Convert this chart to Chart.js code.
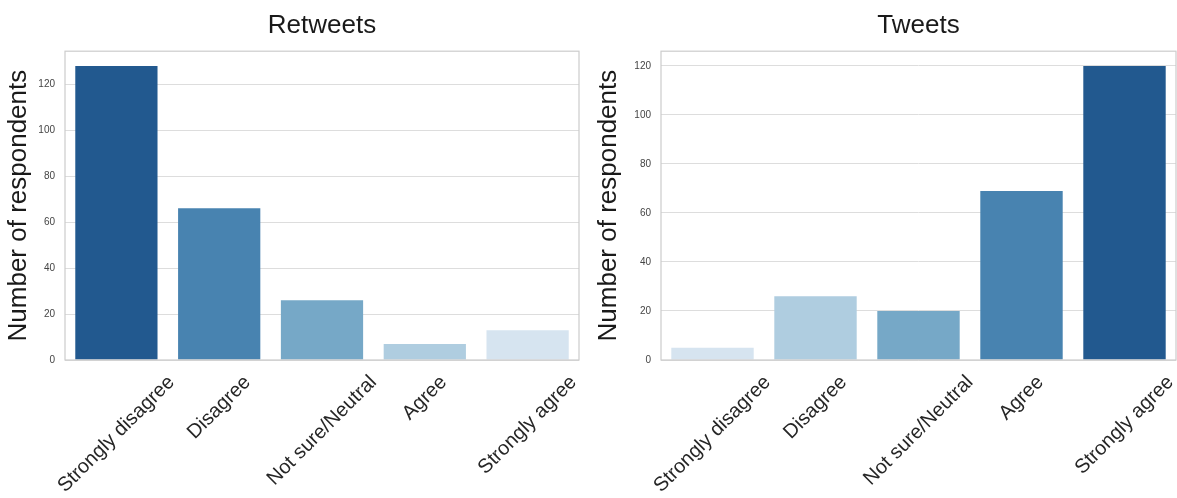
<!DOCTYPE html>
<html>
<head>
<meta charset="utf-8">
<script src="https://cdn.jsdelivr.net/npm/chart.js@4/dist/chart.umd.min.js"></script>
<style>
  html, body { margin: 0; padding: 0; background: #fff; }
  #wrap { position: relative; width: 1177px; height: 498px; }
  #left { position: absolute; left: 0; top: 0; }
  #right { position: absolute; left: 590px; top: 0; }
</style>
</head>
<body>
<div id="wrap">
  <canvas id="left" width="590" height="498"></canvas>
  <canvas id="right" width="587" height="498"></canvas>
</div>
<script>
// data
const categories = ["Strongly disagree", "Disagree", "Not sure/Neutral", "Agree", "Strongly agree"];
const retweetCounts = [128, 66, 26, 7, 13];
const tweetCounts = [5, 26, 20, 69, 120];
const yTicks = [0, 20, 40, 60, 80, 100, 120];

// Blues palette, dark -> light
const blues = ["#22598f", "#4883b0", "#76a8c7", "#afcde0", "#d6e4f0"];
const FONT = "'Liberation Sans', Arial, sans-serif";

// spines on all four sides, drawn over the bars like matplotlib does
const frame = {
  id: "frame",
  afterDatasetsDraw(chart) {
    const a = chart.chartArea;
    const ctx = chart.ctx;
    ctx.save();
    ctx.strokeStyle = "#cccccc";
    ctx.lineWidth = 1.2;
    ctx.strokeRect(a.left, a.top, a.right - a.left, a.bottom - a.top);
    ctx.restore();
  }
};

// x labels rotated 45deg and centred on the tick (matplotlib ha=center)
const slantLabels = {
  id: "slantLabels",
  afterDraw(chart) {
    const x = chart.scales.x;
    const ctx = chart.ctx;
    const fs = 20;
    ctx.save();
    ctx.font = fs + "px " + FONT;
    ctx.fillStyle = "#262626";
    ctx.textAlign = "center";
    ctx.textBaseline = "middle";
    chart.data.labels.forEach((lab, i) => {
      const w = ctx.measureText(lab).width;
      const h = fs * 1.15;
      const ext = (w + h) * Math.SQRT1_2;
      const cx = x.getPixelForTick(i);
      const cy = chart.chartArea.bottom + 11 + ext / 2;
      ctx.save();
      ctx.translate(cx, cy);
      ctx.rotate(-Math.PI / 4);
      ctx.fillText(lab, 0, 0);
      ctx.restore();
    });
    ctx.restore();
  }
};

function makeChart(id, title, counts, colors, yMax, yWidth, padRight) {
  return new Chart(document.getElementById(id), {
    type: "bar",
    data: {
      labels: categories,
      datasets: [{
        data: counts,
        backgroundColor: colors,
        borderWidth: 0,
        barPercentage: 0.8,
        categoryPercentage: 1.0
      }]
    },
    options: {
      responsive: false,
      animation: false,
      devicePixelRatio: 1,
      layout: { padding: { left: 0, right: padRight, top: 0, bottom: 0 } },
      plugins: {
        legend: { display: false },
        tooltip: { enabled: false },
        title: {
          display: true,
          text: title,
          fullSize: false,
          color: "#1a1a1a",
          font: { family: FONT, size: 26, weight: "normal" },
          padding: { top: 10, bottom: 10 }
        }
      },
      scales: {
        x: {
          grid: { display: false },
          border: { display: false },
          ticks: { display: false },
          afterFit(s) { s.height = 138; }
        },
        y: {
          min: 0,
          max: yMax,
          afterBuildTicks(s) { s.ticks = yTicks.map(v => ({ value: v })); },
          grid: { color: "#dddddd", lineWidth: 1, drawTicks: false },
          border: { display: false },
          ticks: {
            padding: 10,
            color: "#444444",
            font: { family: FONT, size: 10 }
          },
          title: {
            display: true,
            text: "Number of respondents",
            color: "#1a1a1a",
            font: { family: FONT, size: 26 },
            padding: { top: 3, bottom: 0 }
          },
          afterFit(s) { s.width = yWidth; }
        }
      }
    },
    plugins: [frame, slantLabels]
  });
}

makeChart("left", "Retweets", retweetCounts, blues, 134.4, 65, 11);
makeChart("right", "Tweets", tweetCounts, blues.slice().reverse(), 126, 71, 1);
</script>
</body>
</html>
